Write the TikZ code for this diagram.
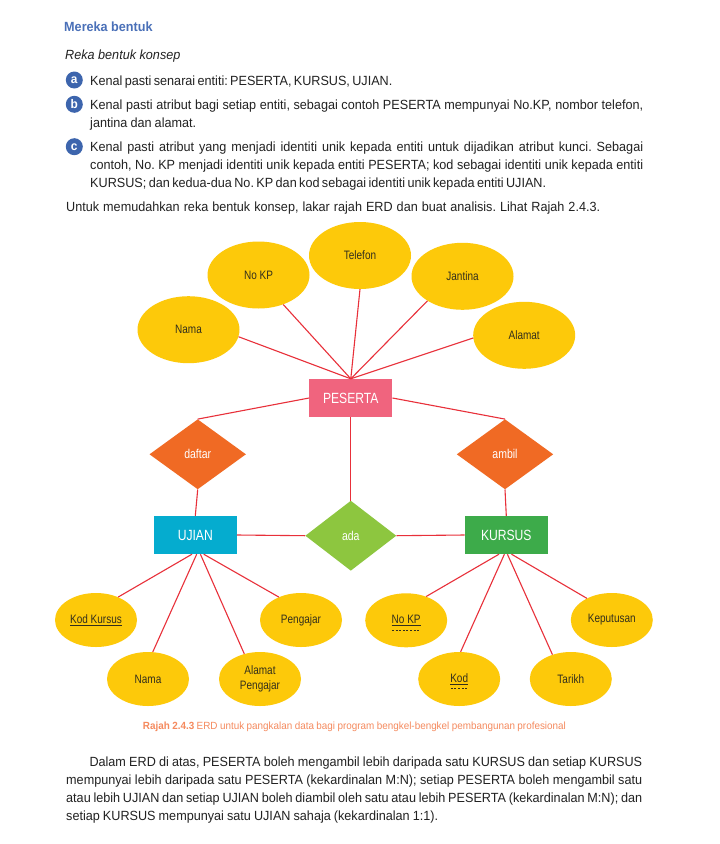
\documentclass[tikz,border=0pt]{standalone}
\usepackage{fontspec}
\setmainfont[FakeStretch=0.95]{Liberation Sans}
\newfontfamily\lbl[FakeStretch=0.82]{Liberation Sans}
\usetikzlibrary{shapes.geometric}
\definecolor{attrY}{HTML}{FDC90A}
\definecolor{attrT}{HTML}{332F1C}
\definecolor{lineR}{HTML}{E8303A}
\definecolor{pesC}{HTML}{F0647E}
\definecolor{ujiC}{HTML}{05ACCF}
\definecolor{kurC}{HTML}{3DAB4A}
\definecolor{relO}{HTML}{F06A24}
\definecolor{relG}{HTML}{8DC63F}
\definecolor{titleB}{HTML}{4A70B8}
\definecolor{badgeB}{HTML}{3D65AD}
\definecolor{capO}{HTML}{F58A5E}
\definecolor{bodyT}{HTML}{222222}
\frenchspacing
\begin{document}
\frenchspacing
\begin{tikzpicture}[x=1pt,y=-1pt,
  attr/.style={ellipse, fill=attrY, inner sep=0pt, minimum width=102, minimum height=67,
    font=\lbl\fontsize{12.2}{15}\selectfont, text=attrT, align=center},
  attrs/.style={attr, minimum width=82, minimum height=54},
  ent/.style={rectangle, inner sep=0pt, minimum width=83, minimum height=38, text=white,
    font=\lbl\fontsize{14.8}{16}\selectfont},
  rel/.style={diamond, inner sep=0pt, minimum width=96.5, minimum height=70, text=white,
    font=\lbl\fontsize{12.8}{14}\selectfont},
  conn/.style={draw=lineR, line width=1.1},
  txt/.style={anchor=base west, inner sep=0pt, font=\fontsize{13.3}{18}\selectfont\frenchspacing, text=bodyT},
  badge/.style={circle, fill=badgeB, minimum size=17, inner sep=0pt, text=white,
    font=\bfseries\fontsize{12.5}{12}\selectfont},
  keydash/.style={draw=attrT, line width=0.8, dash pattern=on 2pt off 1.6pt},
]
\useasboundingbox[fill=white] (0,0) rectangle (720,844);

% ---------- text above ----------
\node[txt, font=\bfseries\fontsize{13.3}{15}\selectfont, text=titleB] (title) at (64,31.5) {Mereka bentuk};
\node[txt, font=\itshape\fontsize{13.3}{15}\selectfont] (reka) at (65,59) {Reka bentuk konsep};
\node[badge] (ba) at (74.3,80) {a};
\node[badge] (bb) at (74.3,104.3) {b};
\node[badge] (bc) at (74.3,146.7) {c};
\node[txt] (la) at (90,85) {\makebox[298pt][s]{Kenal pasti senarai entiti: PESERTA, KURSUS, UJIAN.}};
\node[txt] (lb1) at (90,109) {\makebox[553pt][s]{Kenal pasti atribut bagi setiap entiti, sebagai contoh PESERTA mempunyai No.KP, nombor telefon,}};
\node[txt] (lb2) at (90,127) {\makebox[106pt][s]{jantina dan alamat.}};
\node[txt] (lc1) at (90,151) {\makebox[553pt][s]{Kenal pasti atribut yang menjadi identiti unik kepada entiti untuk dijadikan atribut kunci. Sebagai}};
\node[txt] (lc2) at (90,169) {\makebox[553pt][s]{contoh, No. KP menjadi identiti unik kepada entiti PESERTA; kod sebagai identiti unik kepada entiti}};
\node[txt] (lc3) at (90,187) {\makebox[456pt][s]{KURSUS; dan kedua-dua No. KP dan kod sebagai identiti unik kepada entiti UJIAN.}};
\node[txt] (lu) at (66,211) {\makebox[534pt][s]{Untuk memudahkan reka bentuk konsep, lakar rajah ERD dan buat analisis. Lihat Rajah 2.4.3.}};

% ---------- entities and relationships ----------
\node[ent, fill=pesC] (pes) at (350.8,398) {PESERTA};
\node[ent, fill=ujiC] (uji) at (195.3,535) {UJIAN};
\node[ent, fill=kurC] (kur) at (506.3,535) {KURSUS};
\node[rel, fill=relO] (daftar) at (197.7,454.3) {daftar};
\node[rel, fill=relO] (ambil) at (505,454.3) {ambil};
\node[rel, fill=relG, minimum width=91] (ada) at (350.8,535.7) {ada};

% ---------- attributes of PESERTA ----------
\node[attr] (pnama) at (188.5,329.7) {Nama};
\node[attr] (pnokp) at (258.5,275) {No KP};
\node[attr] (ptel) at (360,255.5) {Telefon};
\node[attr] (pjan) at (462.5,276.3) {Jantina};
\node[attr] (palm) at (524.2,335.3) {Alamat};

% ---------- attributes of UJIAN ----------
\node[attrs] (ukod) at (96,620) {\underline{Kod Kursus}};
\node[attrs] (unama) at (148,679) {Nama};
\node[attrs] (ualm) at (260,679) {Alamat\\Pengajar};
\node[attrs] (upeng) at (301,620) {Pengajar};

% ---------- attributes of KURSUS ----------
\node[attrs] (knokp) at (406.2,620.3) {\underline{No KP}};
\node[attrs] (kkod) at (459.2,679) {\underline{Kod}};
\node[attrs] (ktar) at (570.8,679) {Tarikh};
\node[attrs] (kkep) at (611.8,620) {Keputusan};

% key dashes
\draw[keydash] ([xshift=-14.2pt,yshift=-9.9pt]knokp.center) -- ([xshift=14.2pt,yshift=-9.9pt]knokp.center);
\draw[keydash] ([xshift=-8.4pt,yshift=-9.2pt]kkod.center) -- ([xshift=8.4pt,yshift=-9.2pt]kkod.center);

% ---------- connectors ----------
\draw[conn] (pnama.-8) -- (pes.north);
\draw[conn] (pnokp.-50) -- (pes.north);
\draw[conn] (ptel.south) -- (pes.north);
\draw[conn] (pjan.-145) -- (pes.north);
\draw[conn] (palm.183) -- (pes.north);

\draw[conn] (pes.west) -- (daftar.north);
\draw[conn] (pes.east) -- (ambil.north);
\draw[conn] (pes.south) -- (ada.north);
\draw[conn] (daftar.south) -- (uji.north);
\draw[conn] (ambil.south) -- (kur.north);
\draw[conn] (uji.east) -- (ada.west);
\draw[conn] (ada.east) -- (kur.west);

\draw[conn] ([xshift=-3.3pt]uji.south) -- (ukod.46);
\draw[conn] ([xshift=1.4pt]uji.south) -- (unama.80);
\draw[conn] ([xshift=5.1pt]uji.south) -- (ualm.122);
\draw[conn] ([xshift=8.4pt]uji.south) -- (upeng.134);

\draw[conn] ([xshift=-7.3pt]kur.south) -- (knokp.50);
\draw[conn] ([xshift=-1.9pt]kur.south) -- (kkod.87);
\draw[conn] ([xshift=1.1pt]kur.south) -- (ktar.127);
\draw[conn] ([xshift=5.2pt]kur.south) -- (kkep.139);

% ---------- caption ----------
\node[txt, font=\fontsize{10.4}{13}\selectfont\frenchspacing, text=capO] (cap) at (142.7,729)
  {\makebox[423pt][s]{\textbf{Rajah 2.4.3} ERD untuk pangkalan data bagi program bengkel-bengkel pembangunan profesional}};

% ---------- text below ----------
\node[txt] (p1) at (89.3,766) {\makebox[552.7pt][s]{Dalam ERD di atas, PESERTA boleh mengambil lebih daripada satu KURSUS dan setiap KURSUS}};
\node[txt] (p2) at (66,784) {\makebox[576pt][s]{mempunyai lebih daripada satu PESERTA (kekardinalan M:N); setiap PESERTA boleh mengambil satu}};
\node[txt] (p3) at (66,802) {\makebox[576pt][s]{atau lebih UJIAN dan setiap UJIAN boleh diambil oleh satu atau lebih PESERTA (kekardinalan M:N); dan}};
\node[txt] (p4) at (66,820) {\makebox[372pt][s]{setiap KURSUS mempunyai satu UJIAN sahaja (kekardinalan 1:1).}};
\end{tikzpicture}
\end{document}
